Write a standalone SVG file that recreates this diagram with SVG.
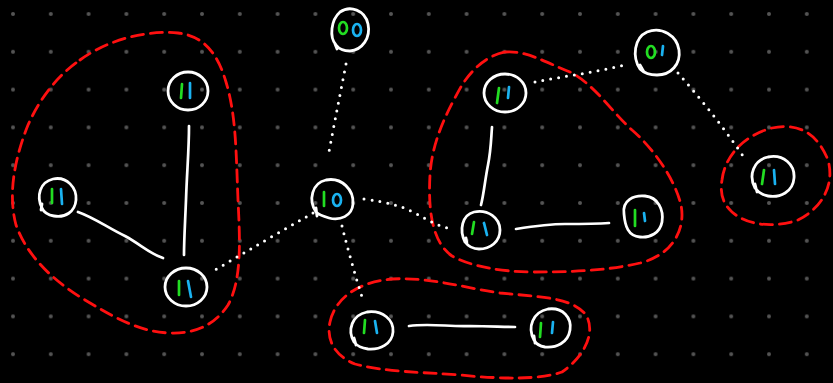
<svg xmlns="http://www.w3.org/2000/svg" width="833" height="383" viewBox="0 0 833 383">
<defs>
<pattern id="grid" x="-5.9" y="-4.9" width="37.8" height="37.8" patternUnits="userSpaceOnUse">
<circle cx="18.9" cy="18.9" r="2" fill="#555"/>
</pattern>
</defs>
<style>
.node{fill:none;stroke:#fff;stroke-width:2.8;stroke-linecap:round}
.g{fill:none;stroke:#22dd22;stroke-width:2.7;stroke-linecap:round}
.c{fill:none;stroke:#1ab2f0;stroke-width:2.7;stroke-linecap:round}
.solid{fill:none;stroke:#fff;stroke-width:2.7;stroke-linecap:round;stroke-linejoin:round}
.dot{fill:none;stroke:#fff;stroke-width:3;stroke-linecap:round;stroke-dasharray:0 8}
.blob{fill:none;stroke:#ff1010;stroke-width:2.8;stroke-dasharray:12 7;stroke-linecap:round}
</style>
<rect width="833" height="383" fill="#000"/>
<rect width="833" height="383" fill="url(#grid)"/>

<g id="groups">
<path class="blob" d="M80,60 C110,38 150,30 178,33 C205,36 218,55 226,82 C236,115 236,150 238,200 C240,240 242,280 228,305 C215,325 195,334 170,333 C140,332 115,318 85,300 C55,282 28,258 16,225 C8,195 14,160 28,125 C40,98 58,75 80,60 Z"/>
<path class="blob" d="M505,52 C525,50 545,62 570,72 C595,85 610,110 632,130 C655,150 675,180 681,205 C686,230 672,255 640,263 C605,271 570,272 535,272 C500,272 470,266 452,256 C432,242 428,210 430,175 C432,140 448,110 462,85 C475,65 490,55 505,52 Z"/>
<path class="blob" d="M722,180 C725,155 745,135 772,128 C800,122 818,135 828,160 C835,185 822,208 798,220 C775,228 748,226 732,212 C722,203 720,192 722,180 Z"/>
<path class="blob" d="M330,322 C336,296 360,282 392,279 C430,277 460,287 500,293 C540,297 572,297 586,315 C596,332 585,356 562,372 C540,380 500,379 460,375 C420,372 385,372 355,364 C335,356 326,340 330,322 Z"/>
</g>

<g id="connectors">
<path class="solid" d="M189,126 C189,150 187,170 186,200 C185,225 184,240 184,255"/>
<path class="solid" d="M78,212 C95,218 108,228 125,236 C140,244 150,254 163,258"/>
<path class="solid" d="M492,127 C491,140 491,150 488,165 C485,180 484,193 481,205"/>
<path class="solid" d="M516,229 C535,226 548,224 565,224 C580,224 595,224 609,223"/>
<path class="solid" d="M409,326 C430,323 450,327 470,326 C490,326 502,327 515,327"/>
<path class="dot" d="M346,64 C340,95 334,125 328,157"/>
<path class="dot" d="M313,213 C280,232 245,252 210,273"/>
<path class="dot" d="M364,199 C385,202 400,205 415,213 C428,220 438,226 448,228"/>
<path class="dot" d="M342,226 C348,250 355,275 363,300"/>
<path class="dot" d="M535,82 C565,76 598,72 629,64"/>
<path class="dot" d="M678,73 C700,98 722,125 743,156"/>
</g>

<g id="node-00">
<path class="node" d="M336,45 C329,37 331,20 340,12 C350,5 365,10 368,24 C371,38 362,50 350,51 C344,51 339,49 336,45 M335,44 L337,49"/>
<ellipse class="g" cx="343" cy="28" rx="4" ry="6"/>
<ellipse class="c" cx="357" cy="30" rx="4" ry="6"/>
</g>
<g id="node-a">
<ellipse class="node" cx="188" cy="91" rx="20" ry="19"/>
<path class="g" d="M182,84 L181,98"/>
<path class="c" d="M190,83 L190,98"/>
</g>
<g id="node-b">
<path class="node" d="M42,208 C36,196 40,182 53,179 C67,176 77,188 76,200 C75,212 65,218 54,216 C48,215 44,213 42,208 M42,204 L41,210"/>
<path class="g" d="M52,189 L52,203"/>
<path class="c" d="M61,189 L62,204"/>
</g>
<g id="node-c">
<ellipse class="node" cx="186" cy="287" rx="21" ry="19"/>
<path class="g" d="M179,281 L179,295"/>
<path class="c" d="M188,281 L191,297"/>
</g>
<g id="node-10">
<path class="node" d="M316,212 C308,200 312,183 326,180 C342,177 354,190 353,204 C352,216 340,221 329,218 C322,216 318,214 316,212 M316,208 L317,216"/>
<path class="g" d="M324,192 L324,206"/>
<ellipse class="c" cx="337" cy="200" rx="4" ry="6"/>
</g>
<g id="node-d">
<ellipse class="node" cx="505" cy="93" rx="21" ry="19"/>
<path class="g" d="M499,88 L497,103"/>
<path class="c" d="M509,87 L508,98"/>
</g>
<g id="node-01">
<path class="node" d="M640,69 C632,57 634,38 647,32 C662,26 677,36 679,50 C681,64 671,75 657,75 C649,75 643,72 640,69 M640,65 L644,72"/>
<ellipse class="g" cx="651" cy="52" rx="4" ry="6"/>
<path class="c" d="M663,46 L662,55"/>
</g>
<g id="node-f">
<path class="node" d="M465,242 C459,230 462,215 474,212 C488,209 500,218 500,230 C500,242 490,249 479,249 C472,249 468,246 465,242 M466,238 L467,244"/>
<path class="g" d="M474,222 L472,234"/>
<path class="c" d="M484,223 L487,235"/>
</g>
<g id="node-g">
<path class="node" d="M624,214 C622,200 634,195 645,196 C658,197 664,210 662,222 C660,233 650,238 640,237 C628,236 625,226 624,214 Z"/>
<path class="g" d="M635,210 L635,226"/>
<path class="c" d="M644,213 L645,221"/>
</g>
<g id="node-h">
<path class="node" d="M755,188 C748,175 754,160 768,157 C784,154 795,165 794,178 C793,192 780,198 768,196 C762,195 758,192 755,188 M755,184 L757,192"/>
<path class="g" d="M764,170 L762,184"/>
<path class="c" d="M774,170 L775,184"/>
</g>
<g id="node-i">
<path class="node" d="M354,342 C347,330 352,315 367,312 C383,310 394,320 393,332 C392,344 380,350 368,349 C361,348 357,346 354,342 M354,338 L356,345"/>
<path class="g" d="M365,320 L364,333"/>
<path class="c" d="M375,321 L377,333"/>
</g>
<g id="node-j">
<path class="node" d="M534,340 C527,327 533,312 548,309 C563,307 572,318 570,330 C568,343 556,348 545,347 C539,346 536,344 534,340 M534,336 L535,343"/>
<path class="g" d="M541,323 L540,337"/>
<path class="c" d="M553,322 L552,333"/>
</g>
</svg>
